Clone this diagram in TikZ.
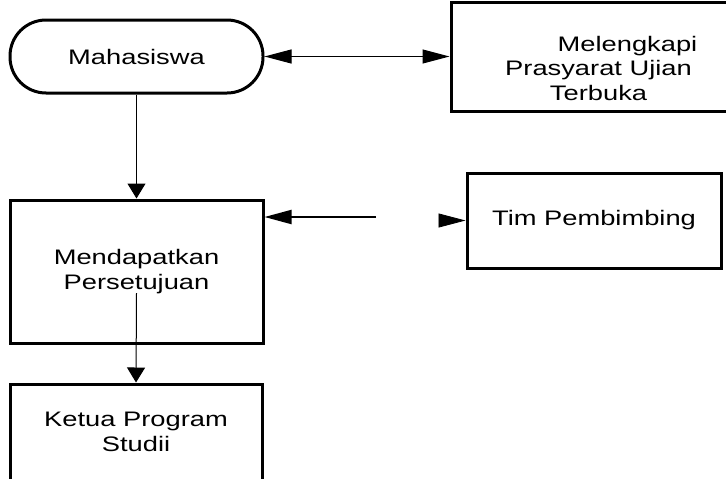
\documentclass[tikz,border=0pt]{standalone}
\usepackage{fontspec}
\setmainfont{Liberation Sans}[FakeStretch=1.3]
\usepackage{tikz}
\usetikzlibrary{positioning}
\usetikzlibrary{arrows.meta}

\begin{document}
\begin{tikzpicture}[x=0.5pt, y=0.5pt,
		kotak/.style={draw, line width=1.5pt, minimum width=126.5pt, align=center, font=\fontsize{10.5}{12.2}\selectfont},
		tulisan/.style={align=center, font=\fontsize{10.5}{12.2}\selectfont},
		panah/.style={draw=black, line width=0.5pt},
		ujungv/.tip={Triangle[length=7.5pt, width=9pt]},
		ujungh/.tip={Triangle[length=13.5pt, width=7pt]}]
	\clip (0,0) rectangle (726,478);
	\node[kotak, rounded corners=18pt, minimum height=36.5pt] (mhs) at (136.5,421.5) {Mahasiswa};
	\node[kotak, minimum width=149.5pt, minimum height=54pt] (lengkap) at (600.5,421) {};
	\node[tulisan] (lengkapteks) at (598.5,409.6) {\hspace*{29pt}Melengkapi\\Prasyarat Ujian\\Terbuka};
	\node[kotak, minimum height=71.5pt] (dapat) at (136.5,206.5) {Mendapatkan\\Persetujuan};
	\node[kotak, minimum width=127pt, minimum height=47.5pt] (tim) at (594,257.5) {Tim Pembimbing};
	\node[kotak, minimum width=126pt, minimum height=48pt] (ketua) at (136,46) {Ketua Program\\Studii};
	\draw[panah, ujungh-ujungh] (mhs.east) -- (lengkap.west |- mhs.east);
	\draw[panah, -ujungv] (mhs.south) -- (dapat.north);
	\coordinate (putus) at (376,261);
	\draw[line width=1pt, -ujungh] (putus) -- (putus -| dapat.east);
	\coordinate (putus2) at (439,257.5);
	\draw[-ujungh] (putus2) -- (tim.west);
	\coordinate (dalam) at (136.5,185);
	\draw[panah, -ujungv] (dalam) -- (ketua.north);
\end{tikzpicture}
\end{document}
